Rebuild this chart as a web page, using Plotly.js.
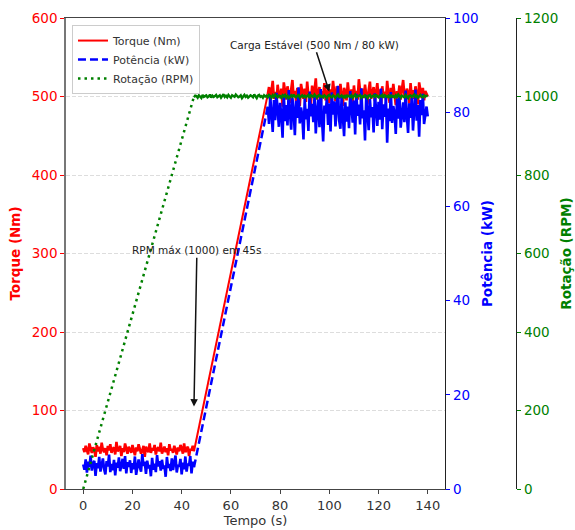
<!DOCTYPE html>
<html>
<head>
<meta charset="utf-8">
<script src="https://cdn.plot.ly/plotly-3.0.1.min.js"></script>
<style>html,body{margin:0;padding:0;background:#fff;}</style>
</head>
<body>
<div id="chart" style="width:575px;height:530px;"></div>
<script>
// ---------------- DATA ----------------
const sampleStep = 0.5;          // s between samples in the noisy segments
const lowStart = 0;              // start time of idle segment (s)
const highStart = 75;            // start time of steady-load segment (s)
const holdStart = 45;            // start time of RPM hold (s)
const rampTime = [45, 75];       // torque / power ramp start & end (s)
const rpmRampTime = [0, 45];
const rpmRampValue = [0, 1000];

const torqueLow = [
52,47,55,49,44,58,51,46,53,50,
41,56,48,54,45,59,50,47,52,43,
55,49,57,46,51,53,44,60,48,50,
55,42,52,47,58,49,45,54,51,46,
56,50,43,53,48,57,52,45,49,55,
41,54,50,47,58,46,52,49,56,44,
51,53,48,59,45,50,54,47,52,43,
57,49,51,46,55,50,44,53,48,56,
52,45,58,47,50,54,42,51,49,55,
48];
const torqueHigh = [
503,512,495,508,520,497,506,491,515,502,
498,510,487,518,504,496,513,500,492,509,
521,499,507,494,511,502,488,516,505,497,
510,493,519,501,506,490,514,498,508,523,
496,504,512,489,507,500,517,495,503,511,
492,509,499,520,505,494,513,502,497,516,
501,488,511,506,495,518,503,499,509,491,
514,500,507,496,522,504,493,510,498,515,
502,490,508,519,497,505,512,494,503,517,
499,509,487,513,501,506,495,520,504,492,
511,498,516,503,489,507,500,514,496,509,
521,502,494,510,505,491,517,499,508,497,
513,503,490,518,506,498,511,495,507,502,500];

const powerLow = [
5.2,4.1,6.3,3.5,5.8,4.6,7.1,3.9,5.4,6.0,
2.8,5.5,4.4,6.8,3.7,5.1,6.5,4.2,3.1,5.9,
4.8,7.3,3.6,5.3,4.0,6.2,2.9,5.6,4.5,6.7,
3.8,5.0,6.4,4.3,7.0,3.3,5.7,4.7,6.1,3.4,
5.5,4.2,6.9,3.0,5.2,6.3,4.6,3.7,7.4,4.9,
5.8,3.2,6.0,4.4,5.1,2.7,6.6,4.1,5.4,3.6,
7.2,4.8,5.9,3.9,6.2,4.3,5.0,2.6,6.8,4.5,
5.3,3.8,6.5,4.0,5.7,7.1,3.5,5.1,4.7,6.4,
3.1,5.6,4.2,6.9,3.7,5.4,4.9,7.0,3.3,5.8,
4.6];
const powerHigh = [
81.2,77.5,83.4,79.0,75.8,82.6,78.3,84.1,80.5,76.9,
82.0,79.4,74.6,83.8,78.1,81.5,77.2,84.7,79.8,76.3,
83.1,80.2,75.1,82.4,78.8,85.3,77.6,81.0,79.3,74.2,
82.9,78.5,80.7,76.0,84.4,79.1,81.8,77.9,83.6,75.5,
80.3,82.7,76.8,84.9,78.6,73.8,81.4,79.7,83.0,77.3,
81.9,75.9,84.2,79.5,82.3,77.0,80.9,85.6,78.2,76.5,
83.3,79.9,74.9,82.1,78.0,81.2,76.6,84.5,80.1,77.8,
82.5,75.3,83.9,79.2,81.6,77.4,85.1,78.7,80.4,74.0,
83.7,79.6,76.2,82.8,78.9,81.1,75.7,84.0,80.6,77.1,
82.2,78.4,85.0,76.4,81.7,79.0,83.2,73.5,80.8,78.1,
84.3,77.7,81.3,79.8,75.4,82.9,78.6,83.5,76.7,80.2,
82.1,77.9,84.6,79.3,75.6,81.9,78.8,83.0,76.1,80.5,
84.8,78.2,81.5,74.8,82.6,79.4,83.9,77.5,80.0,81.2,79.1];

const rpmHold = [
998,1002,1001,997,1003,1000,996,1004,999,1001,
1003,998,1000,1005,997,1002,999,1001,1004,998,
1000,1003,997,1001,1006,999,1002,998,1004,1000,
997,1003,1001,999,1005,1002,998,1000,1003,996,
1001,1004,999,1002,997,1000,1003,1001,998,1005,
1000,996,1002,1004,999,1001,997,1003,1000,1002,
998,1004,1001,997,1003,999,1005,1000,998,1002,
1001,997,1003,1000,1004,998,1002,996,1001,1003,
999,1005,1000,998,1002,1004,997,1001,1003,999,
1002,998,1000,1004,996,1003,1001,999,1005,1000,
997,1002,1004,999,1001,998,1003,1000,996,1002,
1004,1000,998,1003,1001,997,1002,1005,999,1000,
1003,998,1001,996,1004,1000,1002,999,1003,997,
1001,1005,998,1000,1002,1004,997,1001,999,1003,
1000,996,1002,1004,998,1001,1003,999,1005,1000,
998,1002,1000,1004,997,1003,1001,999,1002,996,
1004,1000,1001,998,1003,999,1005,1000,997,1002,
1001,998,1004,1000,996,1002,1003,999,1001,1005,
999,1002,997,1001,1004,1000,998,1003,1000,1002,
1001];

const xTicks = [0,20,40,60,80,100,120,140];
const torqueTicks = [0,100,200,300,400,500,600];
const powerTicks = [0,20,40,60,80,100];
const rpmTicks = [0,200,400,600,800,1000,1200];

const seriesNames = ['Torque (Nm)', 'Potência (kW)', 'Rotação (RPM)'];
const noteTexts = ['Carga Estável (500 Nm / 80 kW)', 'RPM máx (1000) em 45s'];
const notePointX = [100, 45];
const notePointY = [506, 105];
const noteTextX = [93.8, 46.2];
const noteTextY = [566, 304];

// ---------------- CHART ----------------
const RED = '#ff0000', BLUE = '#0000ff', GREEN = '#008000';
const FONT = 'DejaVu Sans';
const NOISE_W = 2.6;

const traces = [
  {x0: lowStart, dx: sampleStep, y: torqueLow, type: 'scatter', mode: 'lines',
   line: {color: RED, width: NOISE_W}, showlegend: false, legendgroup: 't', yaxis: 'y'},
  {x: rampTime, y: [torqueLow[torqueLow.length - 1], torqueHigh[0]], type: 'scatter', mode: 'lines',
   line: {color: RED, width: 2}, name: seriesNames[0], legendgroup: 't', legendrank: 1, yaxis: 'y'},
  {x0: highStart, dx: sampleStep, y: torqueHigh, type: 'scatter', mode: 'lines',
   line: {color: RED, width: NOISE_W}, showlegend: false, legendgroup: 't', yaxis: 'y'},

  {x0: lowStart, dx: sampleStep, y: powerLow, type: 'scatter', mode: 'lines',
   line: {color: BLUE, width: NOISE_W}, showlegend: false, legendgroup: 'p', yaxis: 'y2'},
  {x: rampTime, y: [powerLow[powerLow.length - 1], powerHigh[0]], type: 'scatter', mode: 'lines',
   line: {color: BLUE, width: 2.5, dash: '8px,4px'}, name: seriesNames[1], legendgroup: 'p', legendrank: 2, yaxis: 'y2'},
  {x0: highStart, dx: sampleStep, y: powerHigh, type: 'scatter', mode: 'lines',
   line: {color: BLUE, width: NOISE_W}, showlegend: false, legendgroup: 'p', yaxis: 'y2'},

  {x: rpmRampTime, y: rpmRampValue, type: 'scatter', mode: 'lines',
   line: {color: GREEN, width: 2.5, dash: '2.5px,4px'}, name: seriesNames[2], legendgroup: 'r', legendrank: 3, yaxis: 'y3'},
  {x0: holdStart, dx: sampleStep, y: rpmHold, type: 'scatter', mode: 'lines',
   line: {color: GREEN, width: 2.4}, showlegend: false, legendgroup: 'r', yaxis: 'y3'}
];

const annotations = noteTexts.map((t, i) => ({
  text: t, x: notePointX[i], y: notePointY[i], xref: 'x', yref: 'y',
  ax: noteTextX[i], ay: noteTextY[i], axref: 'x', ayref: 'y',
  showarrow: true, arrowhead: 2, arrowsize: 1, arrowwidth: 1.5, arrowcolor: '#111',
  font: {family: FONT, size: 10.5, color: '#222'}
}));

const layout = {
  width: 575, height: 530,
  margin: {l: 66, r: 59, t: 18, b: 41, pad: 0},
  paper_bgcolor: '#ffffff', plot_bgcolor: '#ffffff',
  font: {family: FONT, size: 13, color: '#222'},
  showlegend: true,
  legend: {x: 0.0133, y: 0.985, xanchor: 'left', yanchor: 'top',
           bgcolor: 'rgba(255,255,255,0.85)', bordercolor: '#cccccc', borderwidth: 1,
           font: {family: FONT, size: 11, color: '#333'}, traceorder: 'normal'},
  xaxis: {domain: [0, 0.8422], range: [-7, 147], tickvals: xTicks,
          ticks: 'outside', ticklen: 4, tickcolor: '#444', tickwidth: 1,
          showline: true, linecolor: '#444', linewidth: 1.2, mirror: true,
          showgrid: false, zeroline: false,
          tickfont: {family: FONT, size: 13, color: '#333'},
          title: {text: 'Tempo (s)', font: {family: FONT, size: 13, color: '#333'}, standoff: 4}},
  yaxis: {range: [0, 600], tickvals: torqueTicks,
          ticks: 'outside', ticklen: 4, tickcolor: RED,
          showline: true, linecolor: '#777', linewidth: 1.8,
          showgrid: true, gridcolor: '#d5d5d5', gridwidth: 0.8, griddash: '4px,2px', zeroline: false,
          tickfont: {family: FONT, size: 13.5, color: RED},
          title: {text: 'Torque (Nm)', font: {family: FONT, size: 13.5, color: RED, weight: 'bold'}, standoff: 8}},
  yaxis2: {range: [0, 100], tickvals: powerTicks, overlaying: 'y', side: 'right', anchor: 'x',
           ticks: 'outside', ticklen: 4, tickcolor: BLUE,
           showline: true, linecolor: '#222', linewidth: 1.2,
           showgrid: false, zeroline: false,
           tickfont: {family: FONT, size: 13.5, color: BLUE},
           title: {text: 'Potência (kW)', font: {family: FONT, size: 13.5, color: BLUE, weight: 'bold'}, standoff: 4}},
  yaxis3: {range: [0, 1200], tickvals: rpmTicks, overlaying: 'y', side: 'right', anchor: 'free', position: 1,
           ticks: 'outside', ticklen: 4, tickcolor: GREEN,
           showline: true, linecolor: '#222', linewidth: 1.2,
           showgrid: false, zeroline: false,
           tickfont: {family: FONT, size: 13.5, color: GREEN},
           title: {text: 'Rotação (RPM)', font: {family: FONT, size: 13.5, color: GREEN, weight: 'bold'}, standoff: 4}},
  annotations: annotations
};

Plotly.newPlot('chart', traces, layout, {displayModeBar: false, staticPlot: true});
</script>
</body>
</html>
